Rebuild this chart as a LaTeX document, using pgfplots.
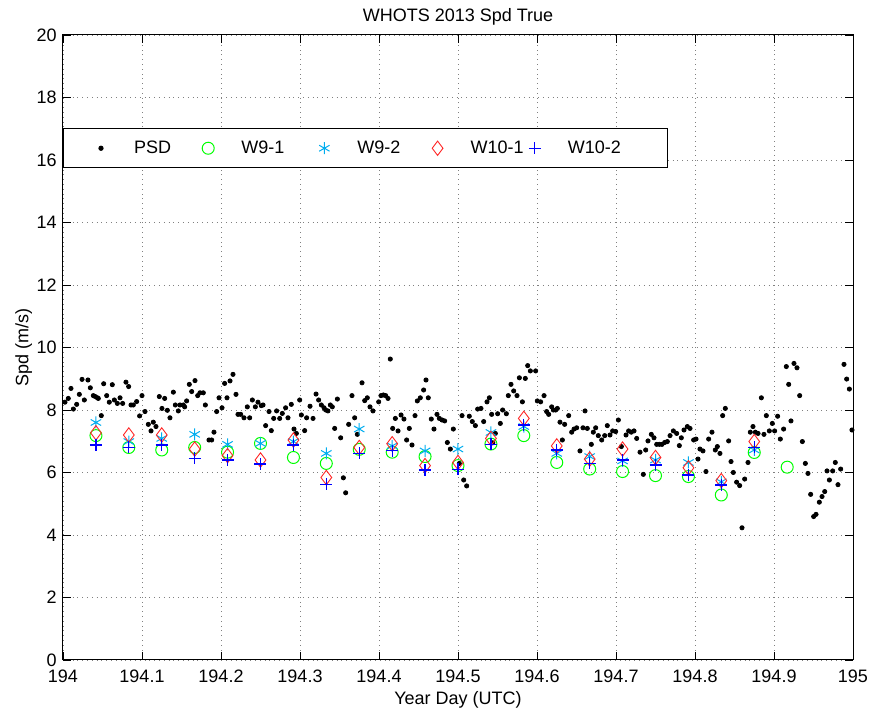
\documentclass[border=0pt]{standalone}
\usepackage{pgfplots}
\pgfplotsset{compat=1.18}
\usepackage{fontspec}
\setmainfont{Liberation Sans}
\begin{document}
\fontsize{9}{11}\selectfont
\begin{tikzpicture}
\useasboundingbox (-31.5pt,-27.5pt) rectangle (406pt,330pt);
\begin{axis}[
  at={(0pt,0pt)}, anchor=south west,
  scale only axis, width=395pt, height=312.5pt,
  xmin=194, xmax=195, ymin=0, ymax=20,
  xtick={194,194.1,194.2,194.3,194.4,194.5,194.6,194.7,194.8,194.9,195},
  ytick={0,2,4,6,8,10,12,14,16,18,20},
  /pgf/number format/assume math mode=true,
  xticklabel style={/pgf/number format/fixed, /pgf/number format/precision=1, /pgf/number format/1000 sep={}, yshift=-2pt},
  yticklabel style={/pgf/number format/fixed, /pgf/number format/precision=0},
  tick align=inside, xtick pos=both, ytick pos=both,
  major tick length=4pt,
  tick style={black, line width=0.4pt},
  axis line style={black, line width=0.5pt},
  grid=major,
  grid style={black!50, dotted, line width=0.4pt},
  title={WHOTS 2013 Spd True},
  title style={yshift=-4.5pt},
  xlabel={Year Day (UTC)},
  ylabel={Spd (m/s)},
  xlabel style={yshift=2pt},
  ylabel style={yshift=-4pt},
  legend columns=5,
  legend style={at={(rel axis cs:0,0.851)}, anchor=north west, draw=black, line width=0.5pt,
    inner ysep=4pt, inner xsep=4.5pt,
    /tikz/every odd column/.append style={column sep=0pt},
    /tikz/every even column/.append style={column sep=0pt},
    nodes={align=left, inner xsep=3.3pt}},
  legend image code/.code={\path (0pt,0pt) (27pt,0pt); \draw[#1] plot coordinates {(14pt,0pt)};},
]
\addplot[only marks, mark=*, mark size=1.05pt, black] coordinates {
(194.0025,8.25)(194.0067,8.37)(194.0101,8.69)(194.0131,8.03)(194.0173,8.18)(194.0207,8.50)(194.0241,8.98)(194.0270,8.32)
(194.0316,8.96)(194.0346,8.71)(194.0384,8.46)(194.0409,8.43)(194.0435,8.39)(194.0447,8.37)(194.0485,7.82)(194.0515,8.84)
(194.0553,8.46)(194.0586,8.25)(194.0624,8.81)(194.0650,8.32)(194.0688,8.21)(194.0722,8.39)(194.0755,8.21)(194.0797,8.89)
(194.0831,8.75)(194.0861,8.16)(194.0890,8.16)(194.0932,8.27)(194.0970,7.81)(194.1000,8.46)(194.1038,7.95)(194.1080,7.54)
(194.1114,7.33)(194.1143,7.61)(194.1177,7.47)(194.1219,8.43)(194.1253,8.05)(194.1287,8.37)(194.1321,7.99)(194.1354,7.75)
(194.1397,8.57)(194.1422,8.16)(194.1460,7.97)(194.1481,8.16)(194.1523,8.16)(194.1540,8.10)(194.1565,8.29)(194.1599,8.82)
(194.1629,8.59)(194.1671,8.94)(194.1705,8.46)(194.1734,8.55)(194.1776,8.55)(194.1802,8.16)(194.1848,7.04)(194.1882,7.04)
(194.1911,7.29)(194.1945,7.95)(194.1975,8.39)
(194.2013,8.07)(194.2046,8.85)(194.2076,8.39)(194.2114,8.93)(194.2152,9.14)(194.2190,8.50)(194.2215,7.86)(194.2249,7.86)
(194.2291,7.75)(194.2333,8.10)(194.2363,7.75)(194.2397,8.32)(194.2435,8.10)(194.2468,8.25)(194.2510,8.14)(194.2532,8.16)
(194.2565,7.50)(194.2608,7.95)(194.2637,7.34)(194.2667,7.73)(194.2704,7.97)(194.2743,7.73)(194.2776,7.89)(194.2818,8.07)
(194.2848,7.75)(194.2890,8.18)(194.2924,7.39)(194.2954,7.25)(194.2996,8.32)(194.3017,7.84)(194.3059,7.34)(194.3084,7.75)
(194.3127,8.12)(194.3165,7.73)(194.3203,8.51)(194.3236,8.32)(194.3270,8.16)(194.3304,8.07)(194.3325,8.00)(194.3354,7.97)
(194.3384,8.16)(194.3409,8.10)(194.3439,7.41)(194.3473,8.35)(194.3515,7.11)(194.3549,5.83)(194.3578,5.35)(194.3616,7.54)
(194.3658,8.46)(194.3692,7.75)(194.3726,7.22)(194.3785,8.87)(194.3819,8.30)(194.3852,8.39)(194.3886,8.10)(194.3924,7.97)
(194.3996,8.26)(194.4025,8.46)(194.4055,8.48)(194.4084,8.46)(194.4114,8.37)(194.4143,9.63)(194.4173,7.41)(194.4207,7.73)
(194.4241,7.33)(194.4279,7.84)(194.4316,7.71)(194.4350,7.04)(194.4384,7.41)(194.4418,6.88)(194.4456,7.82)(194.4485,8.29)
(194.4523,8.39)(194.4565,8.64)(194.4595,8.96)(194.4624,8.39)(194.4662,7.71)(194.4696,7.39)(194.4734,7.86)(194.4764,7.73)
(194.4798,7.68)(194.4831,7.65)(194.4865,6.96)(194.4903,6.75)(194.4941,7.39)(194.5017,6.29)(194.5051,7.82)(194.5072,5.76)
(194.5110,5.57)(194.5143,7.80)(194.5181,7.63)(194.5220,7.50)(194.5249,8.03)(194.5291,8.05)(194.5325,7.63)(194.5367,8.26)
(194.5397,8.39)(194.5426,7.86)(194.5440,6.95)(194.5473,7.25)(194.5502,7.88)(194.5536,7.57)(194.5565,8.00)(194.5612,7.88)
(194.5637,8.46)(194.5671,8.82)(194.5705,8.61)(194.5747,8.46)(194.5777,9.03)(194.5815,8.26)(194.5852,9.01)(194.5882,9.42)
(194.5916,9.25)
(194.5983,9.25)(194.6004,8.29)(194.6046,8.26)(194.6089,8.46)(194.6122,7.95)(194.6148,7.86)(194.6186,8.10)(194.6207,8.00)
(194.6237,8.00)(194.6258,8.05)(194.6291,7.61)(194.6321,7.04)(194.6350,7.54)(194.6401,7.82)(194.6439,7.29)(194.6469,7.39)
(194.6502,7.43)(194.6544,6.69)(194.6582,7.43)(194.6608,7.97)(194.6637,7.41)(194.6688,6.90)(194.6713,7.29)(194.6743,7.43)
(194.6776,7.18)(194.6819,7.04)(194.6857,7.18)(194.6890,7.50)(194.6924,7.20)(194.6958,7.33)(194.6996,7.31)(194.7030,7.68)
(194.7068,6.83)(194.7127,7.20)(194.7160,7.33)(194.7194,7.29)(194.7228,7.33)(194.7262,7.09)(194.7304,6.65)(194.7346,5.94)
(194.7376,6.72)(194.7405,7.01)(194.7447,7.22)(194.7481,7.11)(194.7515,6.90)(194.7549,6.90)(194.7582,6.90)(194.7616,6.96)
(194.7650,6.99)(194.7684,7.18)(194.7726,7.33)(194.7768,7.25)(194.7802,6.86)(194.7827,7.11)(194.7861,7.36)(194.7903,7.47)
(194.7937,7.41)
(194.7983,7.04)(194.8013,7.07)(194.8038,6.43)(194.8063,6.75)(194.8101,6.69)(194.8139,6.03)(194.8173,7.07)(194.8215,7.29)
(194.8257,6.72)(194.8283,6.83)(194.8316,6.61)(194.8350,7.82)(194.8384,8.05)(194.8426,7.01)(194.8456,6.35)(194.8485,6.00)
(194.8527,5.69)(194.8565,5.58)(194.8595,4.23)(194.8629,5.79)(194.8671,6.32)(194.8700,7.29)(194.8734,7.47)(194.8764,7.29)
(194.8798,7.25)(194.8840,8.39)(194.8873,7.22)(194.8903,7.82)(194.8941,7.33)(194.8979,7.57)(194.9008,7.33)(194.9046,7.80)
(194.9080,7.07)(194.9122,7.39)(194.9156,9.39)(194.9186,8.82)(194.9215,7.65)(194.9253,9.49)(194.9291,9.35)(194.9325,8.46)
(194.9359,6.99)(194.9397,6.29)(194.9430,5.97)(194.9464,5.30)(194.9502,4.59)(194.9532,4.66)(194.9574,5.05)(194.9608,5.23)
(194.9642,5.39)(194.9671,6.05)(194.9701,5.76)(194.9743,6.05)(194.9776,6.32)(194.9810,5.61)(194.9844,6.11)(194.9886,9.46)
(194.9920,8.99)(194.9954,8.67)(194.9987,7.36)
};
\addlegendentry[text width=19.5pt]{\mbox{PSD}}
\addplot[only marks, mark=o, mark size=3pt, color={rgb,1:red,0;green,1;blue,0}, mark options={line width=0.5pt}] coordinates {
(194.0417,7.18)(194.0833,6.80)(194.1250,6.72)(194.1667,6.80)(194.2083,6.65)(194.2500,6.93)(194.2917,6.48)(194.3333,6.29)
(194.3750,6.74)(194.4167,6.65)(194.4583,6.51)(194.5000,6.22)(194.5417,6.91)(194.5833,7.18)(194.6250,6.32)(194.6667,6.11)
(194.7083,6.03)(194.7500,5.90)(194.7917,5.87)(194.8333,5.28)(194.8750,6.64)(194.9167,6.17)
};
\addlegendentry[text width=24pt]{\mbox{W9-1}}
\addplot[only marks, mark=asterisk, mark size=3pt, cyan, mark options={line width=0.5pt}] coordinates {
(194.0417,7.60)(194.0833,6.99)(194.1250,7.09)(194.1667,7.22)(194.2083,6.90)(194.2500,6.93)(194.2917,6.99)(194.3333,6.61)
(194.3750,7.39)(194.4167,6.85)(194.4583,6.69)(194.5000,6.75)(194.5417,7.28)(194.5833,7.47)(194.6250,6.61)(194.6667,6.51)
(194.7083,6.37)(194.7500,6.40)(194.7917,6.32)(194.8333,5.70)(194.8750,6.72)
};
\addlegendentry[text width=22.5pt]{\mbox{W9-2}}
\addplot[only marks, mark=diamond, mark size=3.6pt, red!85!white, mark options={line width=0.45pt}] coordinates {
(194.0417,7.27)(194.0833,7.20)(194.1250,7.20)(194.1667,6.75)(194.2083,6.54)(194.2500,6.40)(194.2917,7.04)(194.3333,5.84)
(194.3750,6.80)(194.4167,6.92)(194.4583,6.22)(194.5000,6.32)(194.5417,7.09)(194.5833,7.73)(194.6250,6.85)(194.6667,6.43)
(194.7083,6.75)(194.7500,6.48)(194.7917,6.15)(194.8333,5.74)(194.8750,6.99)
};
\addlegendentry[text width=14.5pt]{\mbox{W10-1}}
\addplot[only marks, mark=+, mark size=3pt, draw=blue, color=blue, mark options={line width=0.6pt, draw=blue}] coordinates {
(194.0417,6.88)(194.0833,6.80)(194.1250,6.88)(194.1667,6.45)(194.2083,6.40)(194.2500,6.27)(194.2917,6.88)(194.3333,5.62)
(194.3750,6.61)(194.4167,6.70)(194.4583,6.08)(194.5000,6.10)(194.5417,6.90)(194.5833,7.52)(194.6250,6.72)(194.6667,6.29)
(194.7083,6.40)(194.7500,6.24)(194.7917,5.92)(194.8333,5.60)(194.8750,6.80)
};
\addlegendentry[text width=42pt]{\mbox{W10-2}}
\end{axis}
\end{tikzpicture}
\end{document}
